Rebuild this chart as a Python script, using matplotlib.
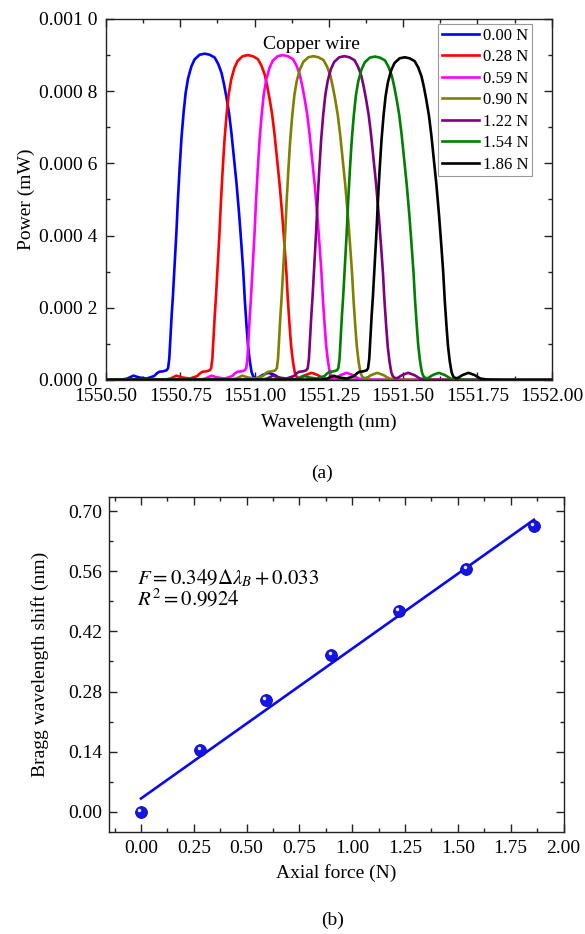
import numpy as np
import matplotlib

matplotlib.use("Agg")

import matplotlib.pyplot as plt
from matplotlib.ticker import MultipleLocator
from matplotlib.transforms import offset_copy

plt.rcParams["font.family"] = ["Liberation Serif", "DejaVu Serif"]
plt.rcParams["mathtext.fontset"] = "stix"

# ---- (a) reflection spectra under axial force ----
force_labels = ["0.00 N", "0.28 N", "0.59 N", "0.90 N", "1.22 N", "1.54 N", "1.86 N"]
peak_wl = [1550.832, 1550.977, 1551.095, 1551.198, 1551.302, 1551.405, 1551.505]
peak_power = [0.000904, 0.000900, 0.000900, 0.000897, 0.000897, 0.000896, 0.000894]
spec_colors = ["#0000FF", "#FF0000", "#FF00FF", "#808000", "#800080", "#008000", "#000000"]

# peak shape: offset from peak (nm), power (mW)
profile_offset = [-1.5, -0.332, -0.28, -0.26, -0.24, -0.22, -0.195, -0.17, -0.16,
                  -0.152, -0.14, -0.128, -0.123, -0.119, -0.115, -0.111, -0.107,
                  -0.103, -0.099, -0.095, -0.09, -0.084, -0.078, -0.071, -0.064,
                  -0.056, -0.045, -0.034, -0.017, 0.0, 0.017, 0.034, 0.046, 0.057,
                  0.065, 0.073, 0.082, 0.090, 0.098, 0.107, 0.116, 0.124, 0.130,
                  0.135, 0.141, 0.146, 0.152, 0.158, 0.163, 0.169, 0.178, 0.195,
                  0.215, 0.235, 0.255, 0.28, 0.33, 1.5]
profile_power = [0.0, 0.000001, 0.000001, 0.000004, 0.000012, 0.000007, 0.000004,
                 0.000011, 0.000019, 0.000023, 0.000024, 0.000027, 0.000033,
                 0.00006, 0.00012, 0.00018, 0.00023, 0.00029, 0.00035, 0.00041,
                 0.0005, 0.00059, 0.00067, 0.00074, 0.000795, 0.000835, 0.000868,
                 0.000888, 0.000901, 0.000904, 0.000901, 0.000893, 0.000875,
                 0.00085, 0.00082, 0.000785, 0.00074, 0.000685, 0.00062, 0.000547,
                 0.00046, 0.000371, 0.0003, 0.000224, 0.00015, 0.000095, 0.000052,
                 0.000022, 0.000011, 0.000006, 0.000005, 0.000014, 0.00002,
                 0.000014, 0.000004, 0.000001, 0.0, 0.0]

# ---- (b) Bragg wavelength shift vs axial force ----
axial_force = [0.0, 0.28, 0.59, 0.90, 1.22, 1.54, 1.86]
bragg_shift = [0.0, 0.143, 0.26, 0.365, 0.468, 0.565, 0.665]
fit_force = [0.0, 1.86]
fit_shift = [0.031, 0.680]


def style_axes(ax):
    for sp in ax.spines.values():
        sp.set_linewidth(1.0)
        sp.set_color("#222222")
    ax.tick_params(which="both", direction="in", top=True, right=True,
                   width=1.0, color="#222222", labelsize=14, pad=6)
    ax.tick_params(which="major", length=5.5)
    ax.tick_params(which="minor", length=3)


fig = plt.figure(figsize=(5.85, 9.34), dpi=100)
W, H = 585, 934

ax1 = fig.add_axes([106 / W, 1 - 380 / H, 445.7 / W, 361 / H])
prof_off = np.array(profile_offset)
prof_pow = np.array(profile_power)
for lab, c0, p0, col in zip(force_labels, peak_wl, peak_power, spec_colors):
    ax1.plot(c0 + prof_off, prof_pow * p0 / prof_pow.max(), color=col, lw=1.9,
             label=lab, solid_joinstyle="round")

ax1.set_xlim(1550.5, 1552.0)
ax1.set_ylim(0, 0.001)
ax1.set_xticks([1550.5, 1550.75, 1551.0, 1551.25, 1551.5, 1551.75, 1552.0])
ax1.set_xticklabels(["1550.50", "1550.75", "1551.00", "1551.25", "1551.50", "1551.75", "1552.00"])
ax1.xaxis.set_minor_locator(MultipleLocator(0.125))
ax1.set_yticks([0, 0.0002, 0.0004, 0.0006, 0.0008, 0.001])
ax1.set_yticklabels(["0.000 0", "0.000 2", "0.000 4", "0.000 6", "0.000 8", "0.001 0"])
ax1.yaxis.set_minor_locator(MultipleLocator(0.0001))
style_axes(ax1)
ax1.set_xlabel("Wavelength (nm)", fontsize=14, labelpad=6)
ax1.set_ylabel("Power (mW)", fontsize=14, labelpad=3)
ax1.text(1551.19, 0.000928, "Copper wire", fontsize=14, ha="center", va="center")

leg = ax1.legend(loc="upper right", bbox_to_anchor=(0.956, 0.986), borderaxespad=0,
                 fancybox=False, edgecolor="#999999", framealpha=1, fontsize=12,
                 handlelength=2.2, handletextpad=0.25, labelspacing=0.33, borderpad=0.22)
leg.get_frame().set_linewidth(0.8)

fig.text(322 / W, 1 - 473 / H, "(a)", fontsize=14, ha="center", va="center")

ax2 = fig.add_axes([109.3 / W, 1 - 832 / H, 454.2 / W, 335 / H])
ax2.plot(fit_force, fit_shift, color="#0A0AF0", lw=1.9, zorder=2)
ax2.plot(axial_force, bragg_shift, ls="none", marker="o", ms=8.5,
         mfc="#1515E8", mec="#0808B0", mew=0.6, zorder=3)
hl = offset_copy(ax2.transData, fig=fig, x=-1.5, y=2.0, units="dots")
ax2.plot(axial_force, bragg_shift, ls="none", marker="o", ms=2.5,
         mfc="#E8E8FF", mec="none", transform=hl, zorder=4)

ax2.set_xlim(-0.15, 2.0)
ax2.set_ylim(-0.047, 0.733)
ax2.set_xticks([0, 0.25, 0.5, 0.75, 1.0, 1.25, 1.5, 1.75, 2.0])
ax2.set_xticklabels(["0.00", "0.25", "0.50", "0.75", "1.00", "1.25", "1.50", "1.75", "2.00"])
ax2.xaxis.set_minor_locator(MultipleLocator(0.125))
ax2.set_yticks([0, 0.14, 0.28, 0.42, 0.56, 0.70])
ax2.set_yticklabels(["0.00", "0.14", "0.28", "0.42", "0.56", "0.70"])
ax2.yaxis.set_minor_locator(MultipleLocator(0.07))
style_axes(ax2)
ax2.tick_params(axis="y", pad=5)
ax2.set_xlabel("Axial force (N)", fontsize=14, labelpad=5)
ax2.set_ylabel("Bragg wavelength shift (nm)", fontsize=14, labelpad=14)
ax2.text(0.061, 0.757, r"$F=0.349\Delta\lambda_B+0.033$", transform=ax2.transAxes,
         fontsize=15, ha="left", va="center")
ax2.text(0.061, 0.695, r"$R^2=0.9924$", transform=ax2.transAxes,
         fontsize=15, ha="left", va="center")

fig.text(333 / W, 1 - 920 / H, "(b)", fontsize=14, ha="center", va="center")

fig.savefig("out.png", dpi=100, facecolor="white")
plt.close(fig)
